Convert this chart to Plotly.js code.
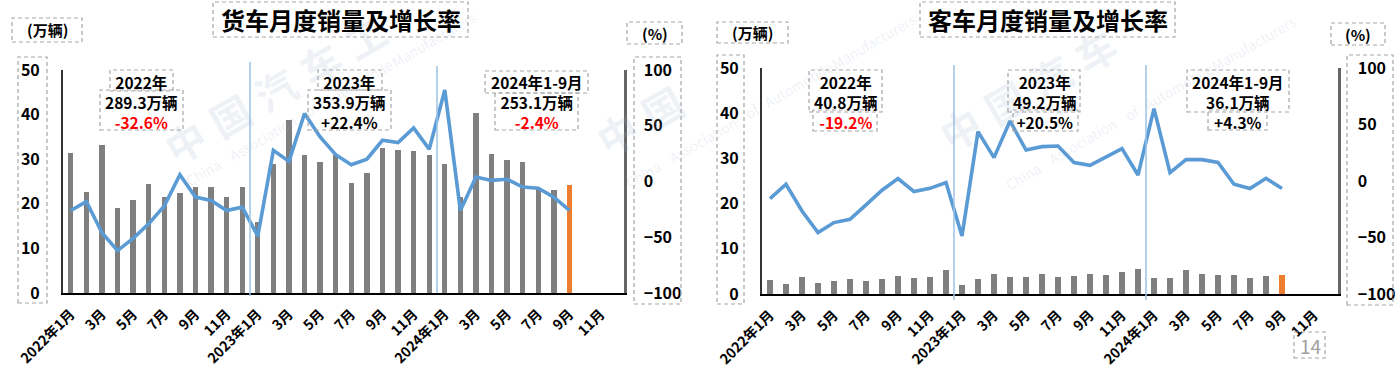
<!DOCTYPE html>
<html><head><meta charset="utf-8">
<script src="https://cdn.plot.ly/plotly-3.0.1.min.js"></script>
<style>html,body{margin:0;padding:0;background:#fff;overflow:hidden}#chart{width:1398px;height:371px}</style>
</head><body><div id="chart"></div>
<script>
// ---------------- data ----------------
const months = [
  '2022年1月','2022年2月','2022年3月','2022年4月','2022年5月','2022年6月','2022年7月','2022年8月','2022年9月','2022年10月','2022年11月','2022年12月',
  '2023年1月','2023年2月','2023年3月','2023年4月','2023年5月','2023年6月','2023年7月','2023年8月','2023年9月','2023年10月','2023年11月','2023年12月',
  '2024年1月','2024年2月','2024年3月','2024年4月','2024年5月','2024年6月','2024年7月','2024年8月','2024年9月','2024年10月','2024年11月','2024年12月'
];
const tickMonths = ['2022年1月','2022年3月','2022年5月','2022年7月','2022年9月','2022年11月',
  '2023年1月','2023年3月','2023年5月','2023年7月','2023年9月','2023年11月',
  '2024年1月','2024年3月','2024年5月','2024年7月','2024年9月','2024年11月'];
const tickLabels = ['2022年1月','3月','5月','7月','9月','11月',
  '2023年1月','3月','5月','7月','9月','11月',
  '2024年1月','3月','5月','7月','9月','11月'];

// 货车 sales (万辆) and growth (%)
const truckSales = [31.5,22.6,33.2,19.1,20.9,24.4,21.5,22.4,23.8,23.8,21.5,23.8,
                    15.9,28.9,38.8,30.9,29.4,30.9,24.7,26.9,32.5,32.1,31.8,30.9,
                    28.9,21.5,40.4,31.2,29.8,29.4,23.5,23.1,24.2];
const truckGrowth = [-26,-18,-46,-62,-51,-38,-22,6,-14,-17,-26,-23,
                     -49,28,18,61,40,24,15,20,37,35,48,29,
                     82,-26,4,1,2,-5,-6,-14,-26];
// 客车 sales (万辆) and growth (%)
const busSales = [3.0,2.2,3.8,2.4,2.9,3.3,2.9,3.3,4.0,3.5,3.8,5.3,
                  2.0,3.3,4.4,3.8,3.8,4.5,3.8,4.0,4.4,4.2,4.9,5.5,
                  3.5,3.5,5.3,4.4,4.2,4.2,3.5,4.0,4.2];
const busGrowth = [-15.6,-2.9,-26.5,-45.7,-36.8,-33.9,-21.2,-8.2,2.1,-9.4,-6.5,-1.4,
                   -48.7,43.7,20.7,53.1,27.4,30.4,31,16.3,13.9,21.6,28.7,5.3,
                   64.1,7.4,18.9,18.9,16.5,-2.9,-6.7,2.4,-6.7];

const truckTitle = '货车月度销量及增长率';
const busTitle = '客车月度销量及增长率';
const truckSummary = [['2022年','289.3万辆','-32.6%'],['2023年','353.9万辆','+22.4%'],['2024年1-9月','253.1万辆','-2.4%']];
const busSummary = [['2022年','40.8万辆','-19.2%'],['2023年','49.2万辆','+20.5%'],['2024年1-9月','36.1万辆','+4.3%']];
const unitLeft = '(万辆)', unitRight = '(%)', pageNum = '14';
const wmCN = ['中','国','汽','车','工'];
const wmEN = ['China','Association','of','Automobile','Manufacturers'];

// ---------------- layout helpers ----------------
const W = 1398, H = 371;
const FONT = "'Noto Sans CJK SC','Noto Sans',sans-serif";
const PX = x => x / W, PY = y => 1 - y / H;
const GRAY = '#7F7F7F', ORANGE = '#ED7D31', BLUE = '#5B9BD5';

function barColors(v){ return v.map((_, i) => i === v.length - 1 ? ORANGE : GRAY); }
function box(x0, y0, x1, y1){
  return {type:'rect', xref:'paper', yref:'paper', x0:PX(x0), x1:PX(x1), y0:PY(y1), y1:PY(y0),
          line:{color:'#A6A6A6', width:1.2, dash:'4px,3px'}, fillcolor:'rgba(0,0,0,0)', layer:'above'};
}
function txt(t, x, y, size, opts){
  opts = opts || {};
  return Object.assign({text:t, xref:'paper', yref:'paper', x:PX(x), y:PY(y), xanchor:'center', yanchor:'middle',
    showarrow:false, font:{family:FONT, size:size, color:opts.color || '#000', weight: opts.weight || 'bold'}}, opts.extra || {});
}

const traces = [
  {type:'bar', x:months.slice(0, truckSales.length), y:truckSales, xaxis:'x', yaxis:'y',
   marker:{color:barColors(truckSales)}, width:0.34, hoverinfo:'skip'},
  {type:'scatter', mode:'lines', x:months.slice(0, truckGrowth.length), y:truckGrowth, xaxis:'x', yaxis:'y2',
   line:{color:BLUE, width:3.6}, hoverinfo:'skip'},
  {type:'bar', x:months.slice(0, busSales.length), y:busSales, xaxis:'x2', yaxis:'y3',
   marker:{color:barColors(busSales)}, width:0.375, hoverinfo:'skip'},
  {type:'scatter', mode:'lines', x:months.slice(0, busGrowth.length), y:busGrowth, xaxis:'x2', yaxis:'y4',
   line:{color:BLUE, width:3.6}, hoverinfo:'skip'}
];

const tickFontX = {family:FONT, size:14, color:'#000', weight:'bold'};
const tickFontY = {family:FONT, size:16, color:'#000', weight:'bold'};
function xAxis(d, anchor){
  return {domain:[PX(d[0]), PX(d[1])], anchor:anchor, type:'category', categoryorder:'array', categoryarray:months,
    range:[-0.5, months.length - 0.5], tickmode:'array', tickvals:tickMonths, ticktext:tickLabels, tickangle:-45,
    tickfont:tickFontX, showline:true, linecolor:'#000', linewidth:1.5, ticks:'', showgrid:false, zeroline:false,
    ticklabelstandoff:6, fixedrange:true};
}
function yLeft(d, anchor){
  return {domain:[PY(d[1]), PY(d[0])], anchor:anchor, range:[0,50], tickmode:'array', tickvals:[0,10,20,30,40,50],
    tickfont:tickFontY, showline:true, linecolor:'#333', linewidth:2, ticks:'', showgrid:false, zeroline:false,
    ticklabelstandoff:18, fixedrange:true};
}
function yRight(over, anchor){
  return {overlaying:over, side:'right', anchor:anchor, range:[-100,100], tickmode:'array', tickvals:[-100,-50,0,50,100],
    tickfont:tickFontY, showline:true, linecolor:'#666', linewidth:2.5, ticks:'', showgrid:false, zeroline:false,
    ticklabelstandoff:14, fixedrange:true};
}

const shapes = [
  // truck chart boxes
  box(213,2,468,37), box(12,18,82,42), box(18,57,47,303), box(627,22,682,44), box(634,57,681,304),
  box(110,70,173,91), box(100,90,183,130),
  box(318,70,382,90), box(308,90,391,130),
  box(485,71,588,93), box(495,93,578,130),
  // bus chart boxes
  box(920,2,1175,37), box(717,22,788,43), box(717,55,744,304), box(1331,23,1385,45), box(1347,55,1393,305),
  box(809,70,882,112), box(813,110,877,131),
  box(1008,70,1080,112), box(1013,110,1078,131),
  box(1187,70,1289,112), box(1208,110,1267,130),
  box(1294,332,1325,358),
  // year separators
  {type:'line', xref:'x', yref:'paper', x0:11.5, x1:11.5, y0:PY(296), y1:PY(62), line:{color:'#9DC3E6', width:1.5}},
  {type:'line', xref:'x', yref:'paper', x0:23.5, x1:23.5, y0:PY(293), y1:PY(66), line:{color:'#9DC3E6', width:1.5}},
  {type:'line', xref:'x2', yref:'paper', x0:11.5, x1:11.5, y0:PY(300), y1:PY(65), line:{color:'#9DC3E6', width:1.5}},
  {type:'line', xref:'x2', yref:'paper', x0:23.5, x1:23.5, y0:PY(300), y1:PY(65), line:{color:'#9DC3E6', width:1.5}}
];

const WM = 'rgba(150,168,198,0.17)';
const annotations = [];
// faint watermark: large characters and English words along a 30° diagonal
const COS = Math.cos(Math.PI/6), SIN = Math.sin(Math.PI/6);
function wmChars(x, y, n){
  for (let k = 0; k < n; k++) annotations.push(txt(wmCN[k], x + 45*k, y - 26*k, 40, {color:WM, extra:{textangle:-30}}));
}
function wmWords(x, y){
  const centers = [19, 87, 144, 198, 285];
  wmEN.forEach((w, k) => annotations.push(txt(w, x + centers[k]*COS, y - centers[k]*SIN, 14,
    {color:WM, weight:'normal', extra:{textangle:-30}})));
}
wmChars(185, 141, 5); wmWords(187, 181);
wmChars(617, 133, 2); wmWords(627, 183);
wmChars(960, 128, 4); wmWords(1007, 185);

annotations.push(
  txt(truckTitle, 340.5, 19, 24), txt(busTitle, 1047.5, 19, 24),
  txt(unitLeft, 47, 30, 15), txt(unitLeft, 752.5, 32.5, 15),
  txt(unitRight, 654.5, 33, 15), txt(unitRight, 1358, 34, 15),
  txt(pageNum, 1310, 345, 19, {color:'#A0A0A0', weight:'normal'})
);
function summary(list, xs, yMid){
  list.forEach((s, k) => {
    const c = s[2].startsWith('-') ? '#FF0000' : '#000';
    annotations.push(txt(s[0] + '<br>' + s[1] + '<br><span style="color:' + c + '">' + s[2] + '</span>', xs[k], yMid, 15.5));
  });
}
summary(truckSummary, [141, 349.5, 536.5], 102);
summary(busSummary, [845, 1044, 1238], 102);

const layout = {
  width:W, height:H, margin:{l:0, r:0, t:0, b:0}, paper_bgcolor:'#fff', plot_bgcolor:'rgba(0,0,0,0)',
  showlegend:false, bargap:0, font:{family:FONT},
  xaxis:xAxis([63,624],'y'), yaxis:yLeft([70,293],'x'), yaxis2:yRight('y','x'),
  xaxis2:xAxis([762,1338],'y3'), yaxis3:yLeft([68,294],'x2'), yaxis4:yRight('y3','x2'),
  shapes:shapes, annotations:annotations
};
Plotly.newPlot('chart', traces, layout, {staticPlot:true, displayModeBar:false});
</script></body></html>
